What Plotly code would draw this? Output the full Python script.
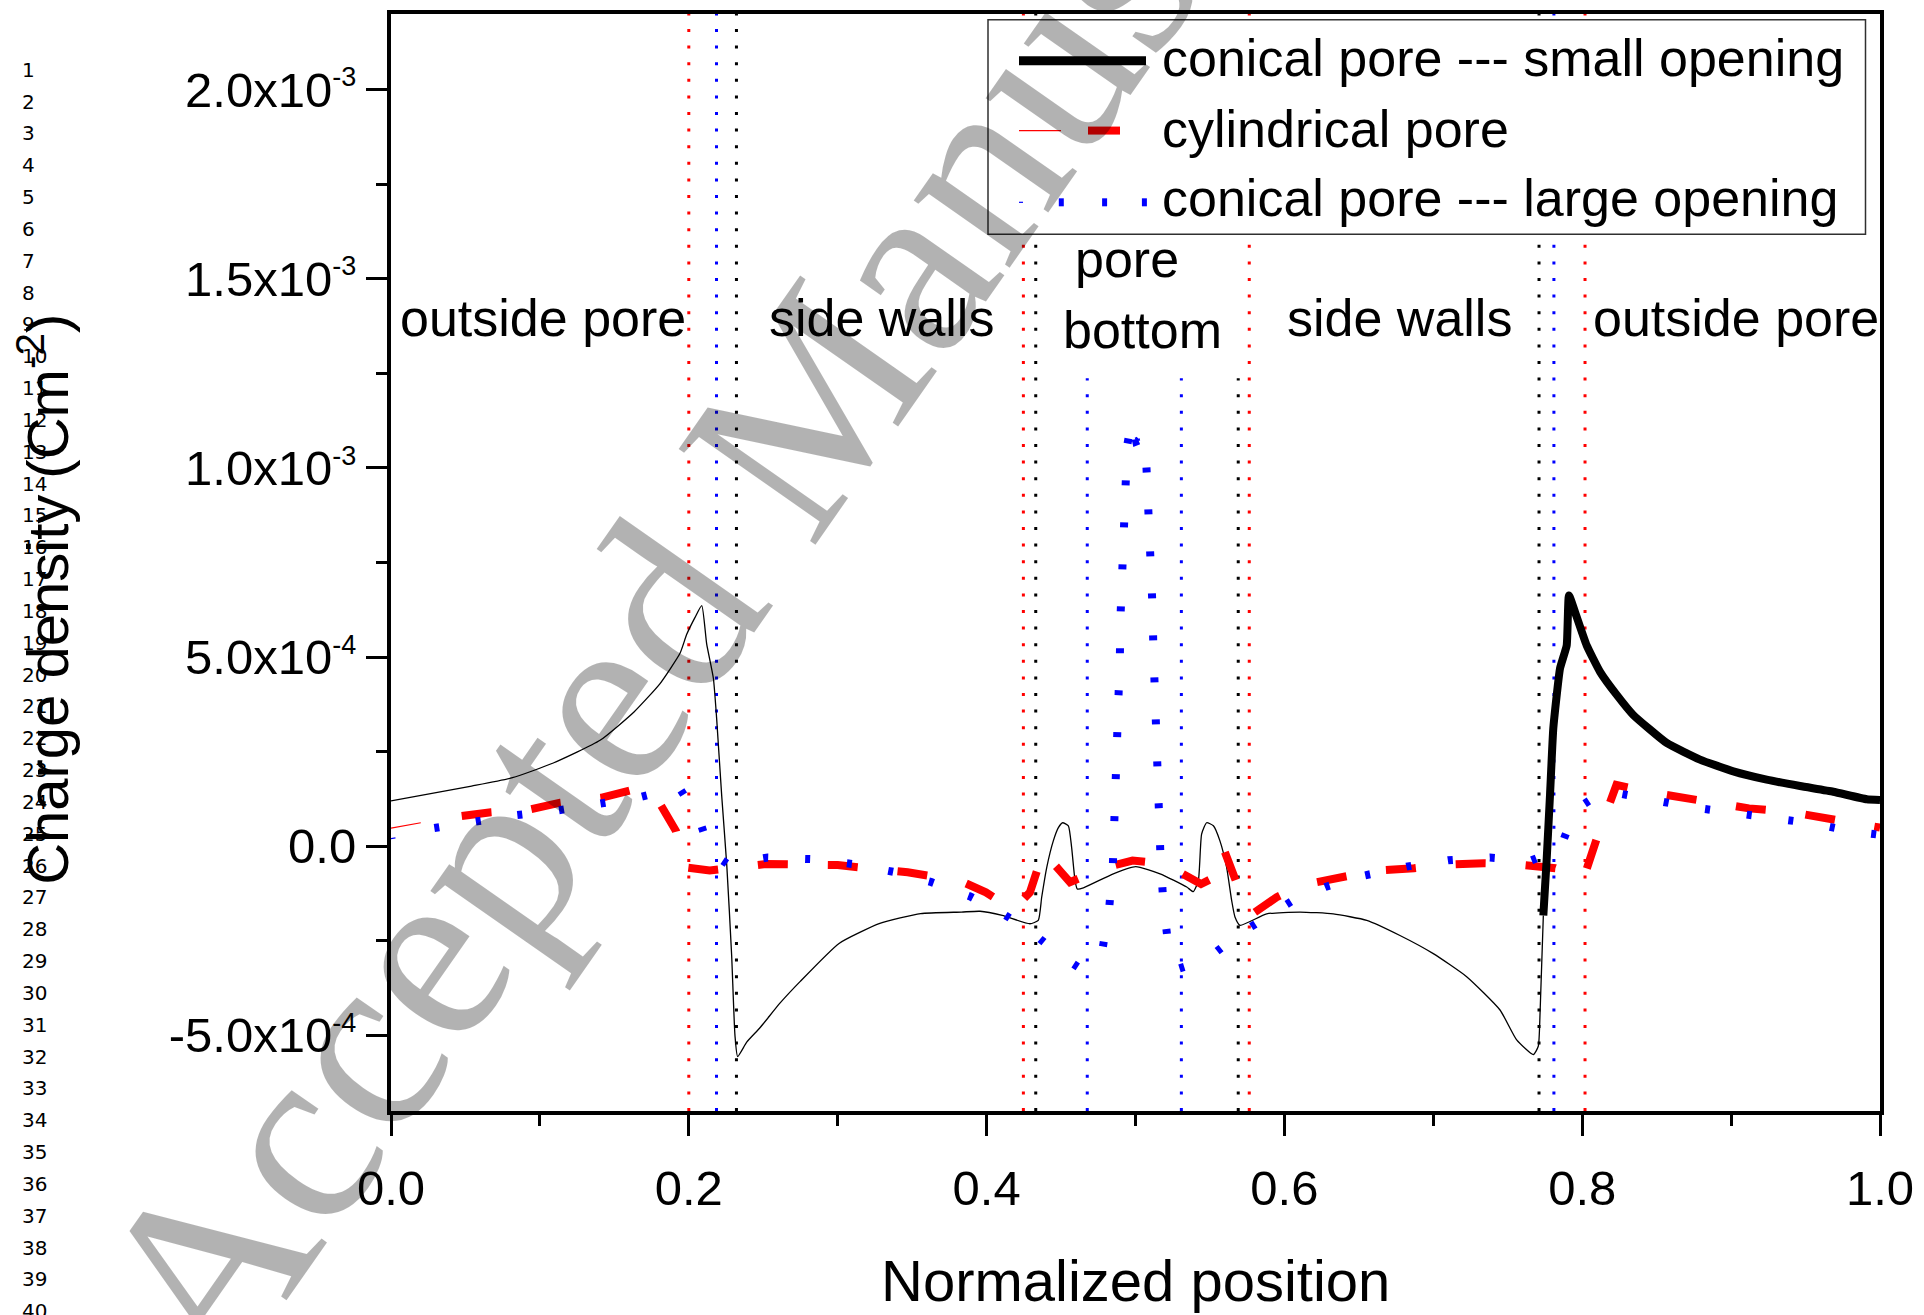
import plotly.graph_objects as go

UNIT = 1e-4  # values below are in units of 1e-4 C m^-2

# ---------------- data ----------------
# conical pore --- small opening (thin part)
small_thin_x = [0.0, 0.0541, 0.0816, 0.109, 0.1404, 0.1632, 0.1807, 0.1941, 0.1986, 0.2042, 0.2087,
                0.212, 0.2165, 0.2187, 0.2221, 0.2255, 0.2288, 0.231, 0.2328, 0.2389, 0.2478, 0.2612,
                0.2747, 0.3009, 0.3283, 0.3557, 0.3831, 0.3956, 0.4105, 0.4291, 0.4347, 0.4370, 0.4404,
                0.4448, 0.4482, 0.4511, 0.4549, 0.4571, 0.4594, 0.4609, 0.465, 0.4851, 0.5001, 0.5165,
                0.5344, 0.5388, 0.5422, 0.5444, 0.5478, 0.5523, 0.5567, 0.5612, 0.5646, 0.5668, 0.5702,
                0.5881, 0.6105, 0.6328, 0.6553, 0.6776, 0.7000, 0.7224, 0.7448, 0.7560, 0.7672, 0.7705,
                0.7717, 0.7739]
small_thin_y = [1.20, 1.59, 1.81, 2.20, 2.80, 3.55, 4.30, 5.10, 5.60, 6.05, 6.36,
                5.35, 4.44, 3.38, 1.33, -0.50, -2.90, -5.00, -5.56, -5.18, -4.80, -4.15,
                -3.58, -2.57, -2.04, -1.78, -1.74, -1.72, -1.83, -2.05, -1.96, -1.35, -0.56,
                0.14, 0.49, 0.62, 0.54, -0.03, -0.91, -1.13, -1.10, -0.73, -0.54, -0.73,
                -1.08, -1.20, -0.91, 0.32, 0.62, 0.54, 0.14, -0.56, -1.44, -1.87, -2.09,
                -1.79, -1.74, -1.79, -1.96, -2.36, -2.84, -3.45, -4.33, -5.12, -5.51, -5.29,
                -4.41, -1.83]
# conical pore --- small opening (thick part)
small_thick_x = [0.7739, 0.7761, 0.7784, 0.7806, 0.7851, 0.7896, 0.7911, 0.7952, 0.8030, 0.8120,
                 0.8232, 0.8343, 0.8567, 0.8791, 0.9015, 0.9239, 0.9463, 0.9686, 0.9911, 1.0]
small_thick_y = [-1.83, -0.38, 1.37, 3.12, 4.70, 5.31, 6.63, 6.19, 5.31, 4.61,
                 4.00, 3.47, 2.73, 2.29, 1.98, 1.76, 1.59, 1.44, 1.24, 1.22]

# cylindrical pore
cyl_stub_x = [0.0, 0.02]
cyl_stub_y = [0.48, 0.62]
cyl_x = [0.0475, 0.0672, 0.094, 0.1137, 0.141, 0.161, 0.169, 0.1802, 0.1914, 0.1975, 0.214, 0.252,
         0.300, 0.347, 0.382, 0.3995, 0.418, 0.4291, 0.438, 0.4493, 0.456, 0.4638, 0.484, 0.498,
         0.5109, 0.5299, 0.544, 0.550, 0.5556, 0.559, 0.568, 0.5747, 0.580, 0.5948, 0.6105, 0.640,
         0.660, 0.687, 0.707, 0.734, 0.754, 0.782, 0.801, 0.810, 0.816, 0.823, 0.848, 0.874, 0.891,
         0.912, 0.939, 0.959, 0.985, 1.0]
cyl_y = [0.80, 0.90, 0.98, 1.15, 1.28, 1.51, 1.56, 1.15, 0.40, -0.56, -0.64, -0.47,
         -0.50, -0.69, -0.91, -1.22, -1.68, -1.22, -0.15, -0.65, -0.95, -0.82, -0.52, -0.38,
         -0.43, -0.69, -1.00, -0.88, -0.17, -0.05, -0.91, -1.67, -1.75, -1.35, -1.04, -0.82,
         -0.65, -0.58, -0.49, -0.45, -0.47, -0.58, -0.84, 0.23, 0.93, 1.62, 1.41, 1.24, 1.15,
         1.00, 0.91, 0.77, 0.60, 0.49]

# conical pore --- large opening
large_stub_x = [0.0, 0.003]
large_stub_y = [0.20, 0.22]
large_x = [0.0291, 0.0569, 0.0842, 0.1126, 0.1404, 0.1677, 0.1934, 0.2071, 0.2142, 0.2261, 0.253,
           0.2816, 0.310, 0.339, 0.363, 0.389, 0.4112, 0.4303, 0.4488, 0.4643, 0.4779, 0.4824,
           0.4848, 0.4859, 0.4868, 0.488, 0.4886, 0.4895, 0.490, 0.4908, 0.4917, 0.4928, 0.4944,
           0.4975, 0.5005, 0.5065, 0.508, 0.509, 0.5103, 0.5114, 0.512, 0.5128, 0.5132, 0.5141,
           0.5154, 0.5168, 0.5186, 0.5217, 0.5295, 0.5477, 0.5667, 0.585, 0.6058, 0.628, 0.653,
           0.682, 0.71, 0.738, 0.7656, 0.785, 0.7953, 0.8148, 0.843, 0.8718, 0.90, 0.928, 0.955,
           0.9814, 1.0]
large_y = [0.48, 0.67, 0.82, 0.95, 1.12, 1.30, 1.56, 0.71, -0.15, -0.47, -0.30,
           -0.34, -0.47, -0.69, -0.95, -1.33, -1.79, -2.27, -2.87, -3.27, -2.71, -1.61,
           -0.49, 0.61, 1.72, 2.82, 3.93, 5.04, 6.14, 7.26, 8.37, 9.48, 10.59,
           11.25, 10.70, 10.80, 9.68, 8.57, 7.45, 6.35, 5.23, 4.12, 3.00, 1.90,
           0.79, -0.32, -1.43, -2.53, -3.23, -3.00, -2.40, -1.92, -1.43, -1.07, -0.78,
           -0.54, -0.37, -0.30, -0.38, -0.08, 0.96, 1.47, 1.24, 1.04, 0.89, 0.74, 0.60,
           0.39, 0.30]

# region boundaries (dotted verticals)
bound_red = [0.2, 0.4247, 0.5764, 0.8019]
bound_blue = [0.2186, 0.4676, 0.5308, 0.781]
bound_black = [0.232, 0.433, 0.569, 0.771]
bound_short = {0.4676, 0.5308, 0.569}   # stop below the "pore bottom" label

region_labels = ["outside pore", "side walls", "pore", "bottom", "side walls", "outside pore"]
region_label_x = [0.1024, 0.3297, 0.4946, 0.5044, 0.677, 0.9031]
region_label_y = [13.97, 13.97, 15.53, 13.64, 13.97, 13.97]

SUP = "<sup><span style='font-size:27px'>{}</span></sup>"
y_tickvals = [-5e-4, 0.0, 5e-4, 1e-3, 1.5e-3, 2e-3]
y_ticktext = ["-5.0x10" + SUP.format("-4"), "0.0", "5.0x10" + SUP.format("-4"),
              "1.0x10" + SUP.format("-3"), "1.5x10" + SUP.format("-3"),
              "2.0x10" + SUP.format("-3")]
x_tickvals = [0.0, 0.2, 0.4, 0.6, 0.8, 1.0]
x_ticktext = ["0.0", "0.2", "0.4", "0.6", "0.8", "1.0"]

legend_names = ["conical pore --- small opening", "cylindrical pore", "conical pore --- large opening"]

# ---------------- figure ----------------
W, H = 1924, 1315
L, R, T, B = 391, 44, 10, 204
PW, PH = W - L - R, H - T - B


def PX(px):
    return (px - L) / PW


def PY(py):
    return (H - B - py) / PH


FONT = "Liberation Sans, Arial, sans-serif"
RED, BLUE = "#ff0000", "#0000ff"

sc = lambda v: [a * UNIT for a in v]

fig = go.Figure()
fig.add_trace(go.Scatter(x=small_thin_x, y=sc(small_thin_y), mode="lines",
                         line=dict(color="black", width=1.3, shape="spline", smoothing=0.5),
                         showlegend=False, name=legend_names[0]))
fig.add_trace(go.Scatter(x=cyl_stub_x, y=sc(cyl_stub_y), mode="lines",
                         line=dict(color=RED, width=1.2), showlegend=False, name=legend_names[1]))
fig.add_trace(go.Scatter(x=cyl_x, y=sc(cyl_y), mode="lines",
                         line=dict(color=RED, width=8, dash="30px,40px"), showlegend=False,
                         name=legend_names[1]))
fig.add_trace(go.Scatter(x=large_stub_x, y=sc(large_stub_y), mode="lines",
                         line=dict(color=BLUE, width=1.2), showlegend=False, name=legend_names[2]))
fig.add_trace(go.Scatter(x=large_x, y=sc(large_y), mode="lines",
                         line=dict(color=BLUE, width=8, dash="5px,37px"), showlegend=False,
                         name=legend_names[2]))
fig.add_trace(go.Scatter(x=small_thick_x, y=sc(small_thick_y), mode="lines",
                         line=dict(color="black", width=8, shape="spline", smoothing=0.4),
                         showlegend=False, name=legend_names[0]))

YMIN, YMAX = -7e-4, 2.2e-3
shapes = []
for xs, col in ((bound_red, RED), (bound_blue, BLUE), (bound_black, "black")):
    for b in xs:
        top = 1.237e-3 if b in bound_short else YMAX
        shapes.append(dict(type="line", xref="x", yref="y", x0=b, x1=b, y0=YMIN, y1=top,
                           line=dict(color=col, width=3, dash="3px,13.6px"), layer="below"))

# manual legend
shapes.append(dict(type="rect", xref="paper", yref="paper", x0=PX(988), x1=PX(1865.5),
                   y0=PY(231), y1=PY(15.7), fillcolor="white",
                   line=dict(color="#303030", width=1.5), layer="above"))
shapes.append(dict(type="line", xref="paper", yref="paper", x0=PX(1019), x1=PX(1146),
                   y0=PY(57), y1=PY(57), line=dict(color="black", width=9), layer="above"))
shapes.append(dict(type="line", xref="paper", yref="paper", x0=PX(1019), x1=PX(1061),
                   y0=PY(127), y1=PY(127), line=dict(color=RED, width=1.2), layer="above"))
shapes.append(dict(type="line", xref="paper", yref="paper", x0=PX(1088), x1=PX(1120),
                   y0=PY(127), y1=PY(127), line=dict(color=RED, width=8), layer="above"))
shapes.append(dict(type="line", xref="paper", yref="paper", x0=PX(1019), x1=PX(1023),
                   y0=PY(199), y1=PY(199), line=dict(color=BLUE, width=1.2), layer="above"))
for cx in (1061.3, 1104.6, 1144.4):
    shapes.append(dict(type="line", xref="paper", yref="paper", x0=PX(cx - 2.5), x1=PX(cx + 2.5),
                       y0=PY(199), y1=PY(199), line=dict(color=BLUE, width=8), layer="above"))

annotations = []
for name, py in zip(legend_names, (54.5, 125, 195)):
    annotations.append(dict(text=name, xref="paper", yref="paper", x=PX(1160), y=PY(py),
                            xanchor="left", yanchor="middle", showarrow=False,
                            font=dict(family=FONT, size=52, color="black")))
for t, xx, yy in zip(region_labels, region_label_x, region_label_y):
    annotations.append(dict(text=t, xref="x", yref="y", x=xx, y=yy * UNIT, xanchor="center",
                            yanchor="middle", showarrow=False,
                            font=dict(family=FONT, size=52, color="black")))

# axis titles
annotations.append(dict(text="Normalized position", xref="paper", yref="paper", x=0.5,
                        y=PY(1281), xanchor="center", yanchor="middle", showarrow=False,
                        font=dict(family=FONT, size=58, color="black")))
annotations.append(dict(text="Charge density (Cm<sup>-2</sup>)", xref="paper", yref="paper",
                        x=PX(44), y=PY(598), xanchor="center", yanchor="middle", textangle=-90,
                        showarrow=False, font=dict(family=FONT, size=58, color="black")))

# manuscript line numbers
for n in range(1, 41):
    annotations.append(dict(text=str(n), xref="paper", yref="paper", x=PX(20),
                            y=PY(66 + (n - 1) * 31.95), xanchor="left", yanchor="middle",
                            showarrow=False, font=dict(family="DejaVu Sans", size=20, color="black")))

# watermark
annotations.append(dict(text="Accepted Manuscript", xref="paper", yref="paper", x=PX(780),
                        y=PY(444), xanchor="center", yanchor="middle", textangle=-55,
                        showarrow=False,
                        font=dict(family="Liberation Serif, Times New Roman, serif", size=255,
                                  color="rgba(0,0,0,0.30)")))

fig.update_layout(
    width=W, height=H,
    margin=dict(l=L, r=R, t=T, b=B, pad=0),
    paper_bgcolor="white", plot_bgcolor="white",
    showlegend=False,
    shapes=shapes, annotations=annotations,
    font=dict(family=FONT, color="black"),
)
fig.update_xaxes(range=[0, 1], showgrid=False, zeroline=False, showline=True, linecolor="black",
                 linewidth=4, mirror=True, ticks="outside", ticklen=21, tickwidth=3,
                 tickcolor="black", tickmode="array", tickvals=x_tickvals, ticktext=x_ticktext,
                 tickfont=dict(family=FONT, size=49, color="black"), ticklabelstandoff=10,
                 minor=dict(tickmode="array", tickvals=[0.1, 0.3, 0.5, 0.7, 0.9], ticks="outside",
                            ticklen=11, tickwidth=3, tickcolor="black"))
fig.update_yaxes(range=[YMIN, YMAX], showgrid=False, zeroline=False, showline=True,
                 linecolor="black", linewidth=4, mirror=True, ticks="outside", ticklen=21,
                 tickwidth=3, tickcolor="black", tickmode="array", tickvals=y_tickvals,
                 ticktext=y_ticktext, tickfont=dict(family=FONT, size=49, color="black"),
                 ticklabelstandoff=0,
                 minor=dict(tickmode="array",
                            tickvals=[-2.5e-4, 2.5e-4, 7.5e-4, 1.25e-3, 1.75e-3],
                            ticks="outside", ticklen=11, tickwidth=3, tickcolor="black"))

fig.write_html("out.html")
